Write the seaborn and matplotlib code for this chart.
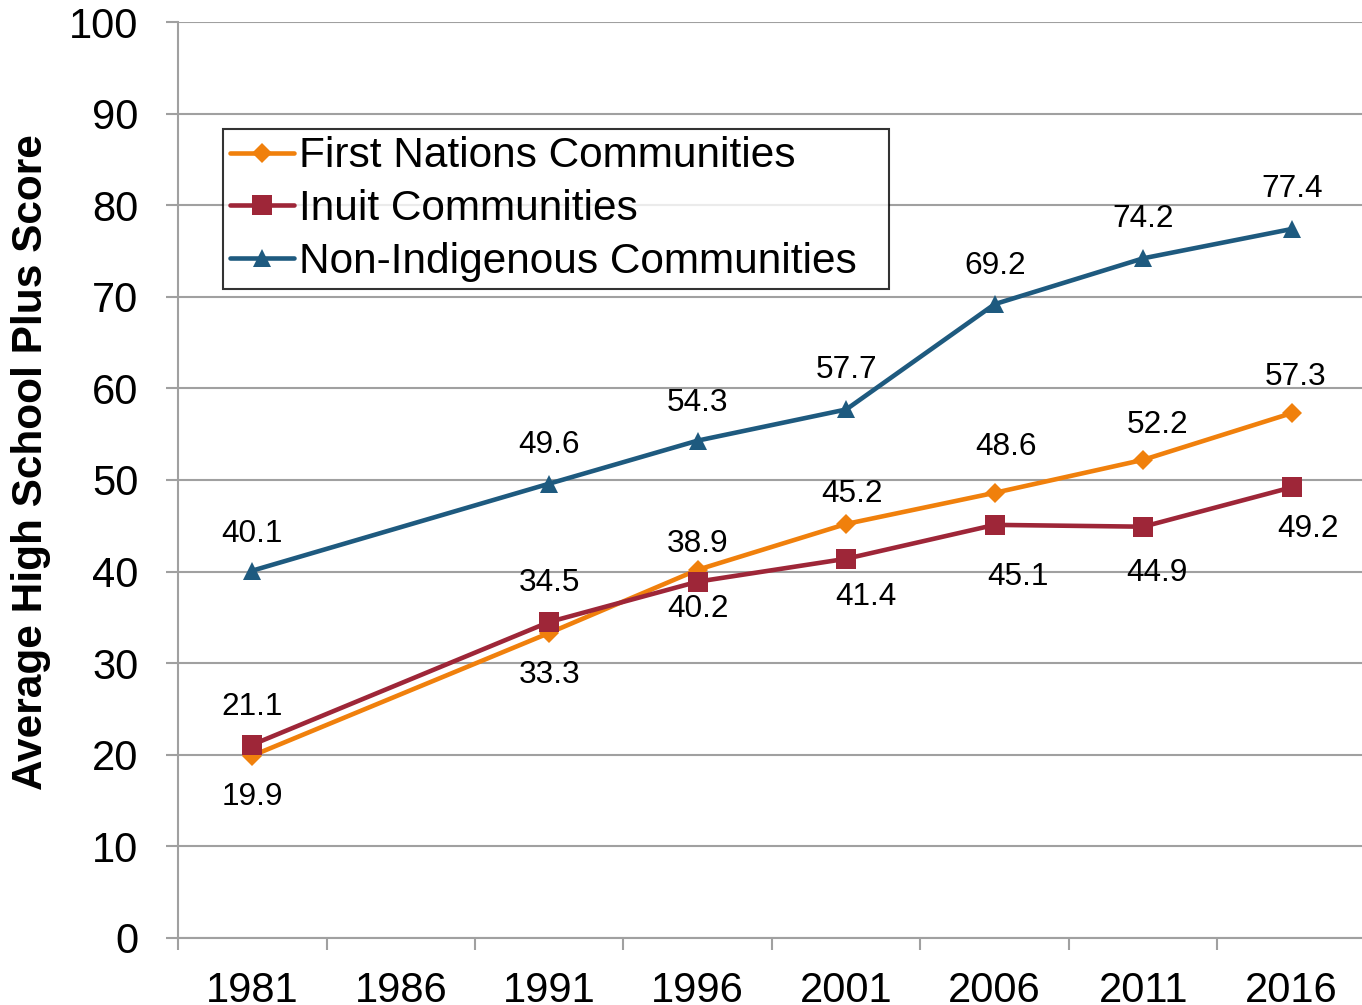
import numpy as np
import pandas as pd
import matplotlib
matplotlib.use("Agg")
import matplotlib.pyplot as plt
import seaborn as sns

# Categories on the x axis (1986 has no data)
years = ["1981", "1986", "1991", "1996", "2001", "2006", "2011", "2016"]
data_years = ["1981", "1991", "1996", "2001", "2006", "2011", "2016"]

first_nations = [19.9, 33.3, 40.2, 45.2, 48.6, 52.2, 57.3]
inuit = [21.1, 34.5, 38.9, 41.4, 45.1, 44.9, 49.2]
non_indigenous = [40.1, 49.6, 54.3, 57.7, 69.2, 74.2, 77.4]

series_names = ["First Nations Communities", "Inuit Communities",
                "Non-Indigenous Communities"]
series_values = [first_nations, inuit, non_indigenous]

# Label offsets in pixels (dx, dy), roughly as placed in the original
label_offsets = [
    [(0, -41), (0, -42), (0, -39), (6, 30), (11, 46), (14, 35), (4, 36)],
    [(0, 38), (0, 39), (0, 38), (20, -38), (23, -52), (14, -46), (16, -42)],
    [(0, 37), (0, 39), (0, 38), (0, 39), (0, 38), (0, 39), (0, 40)],
]

sns.set_theme(style="white")
plt.rcParams["font.family"] = ["Liberation Sans", "DejaVu Sans"]
plt.rcParams["text.color"] = "black"
plt.rcParams["axes.labelcolor"] = "black"

colors = ["#F0800C", "#9E2638", "#1E5A7F"]
markers = ["D", "s", "^"]
msizes = [10, 14, 13.5]

rows = []
for name, vals in zip(series_names, series_values):
    for yr, v in zip(data_years, vals):
        rows.append({"group": name, "pos": years.index(yr), "score": v})
df = pd.DataFrame(rows)

fig = plt.figure(figsize=(13.62, 10.05), dpi=100)
ax = fig.add_axes([0.1307, 0.0667, 0.8722, 0.9114])

px = 72 / 100  # pixels to points

for i, name in enumerate(series_names):
    sub = df[df["group"] == name]
    sns.lineplot(data=sub, x="pos", y="score", ax=ax, color=colors[i],
                 marker=markers[i], markersize=msizes[i], linewidth=3.3,
                 markeredgewidth=0, label=name, zorder=3 + i)
    for (x, y), (dx, dy) in zip(sub[["pos", "score"]].values, label_offsets[i]):
        ax.annotate(f"{y:.1f}", (x, y), xytext=(dx * px, dy * px),
                    textcoords="offset points", ha="center", va="center",
                    fontsize=22.8, color="black")

ax.set_xlim(-0.5, len(years) - 0.5)
ax.set_ylim(0, 100)
ax.set_yticks(np.arange(0, 101, 10))
ax.yaxis.grid(True, color="#A0A0A0", linewidth=1.5)
ax.set_axisbelow(True)

# tick marks between categories, labels at the centres
ax.set_xticks(np.arange(-0.5, len(years), 1))
ax.set_xticklabels([])
ax.set_xticks(np.arange(len(years)), minor=True)
ax.set_xticklabels(years, minor=True)
ax.tick_params(axis="x", which="major", length=12 * px, width=1.5,
               color="#A0A0A0", bottom=True)
ax.tick_params(axis="x", which="minor", length=0, pad=24, labelsize=30,
               labelcolor="black")
ax.tick_params(axis="y", length=12 * px, width=1.5, color="#A0A0A0",
               left=True, pad=20, labelsize=30, labelcolor="black")

for side in ["top", "right"]:
    ax.spines[side].set_visible(False)
for side in ["left", "bottom"]:
    ax.spines[side].set_color("#A0A0A0")
    ax.spines[side].set_linewidth(1.5)

ax.set_xlabel("")
ax.set_ylabel("Average High School Plus Score", fontsize=30.5,
              fontweight="bold", color="black")
ax.yaxis.set_label_coords(-0.107, 0.52)

leg = ax.legend(loc="upper left", bbox_to_anchor=(0.0379, 0.0, 0.5606, 0.883),
                mode="expand", fontsize=30.5, frameon=True, fancybox=False,
                edgecolor="black", handlelength=1.5, handletextpad=0.12,
                borderpad=0.17, labelspacing=0.3, borderaxespad=0)
leg.get_frame().set_linewidth(1.5)
for t in leg.get_texts():
    t.set_color("black")

fig.savefig("out.png", dpi=100)
